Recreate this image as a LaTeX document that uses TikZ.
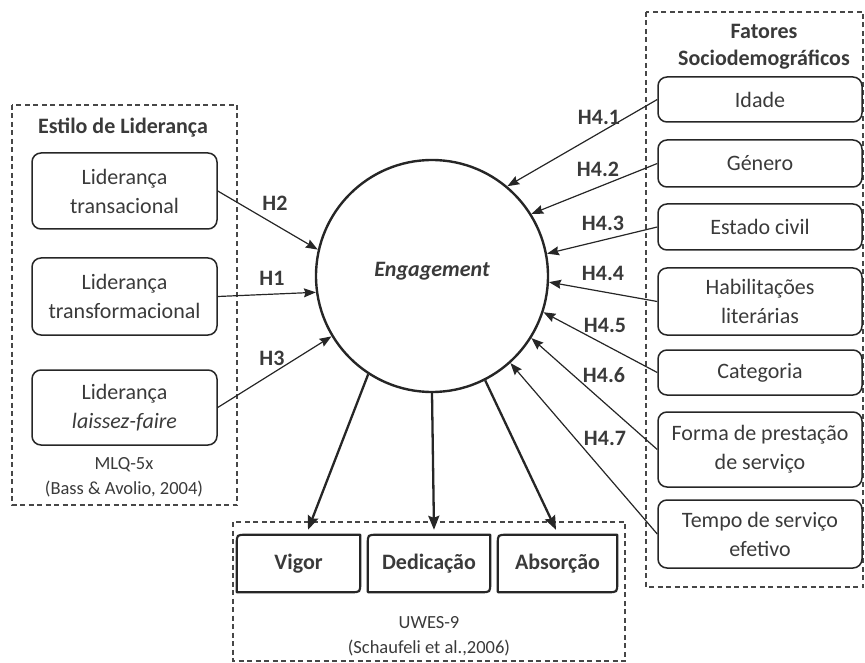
\documentclass[tikz,border=0pt]{standalone}
\usepackage{fontspec}
\setmainfont{Carlito}
\usetikzlibrary{arrows.meta,calc}

\definecolor{txt}{HTML}{3A3A3A}
\definecolor{ink}{HTML}{262626}

\tikzset{
  main/.style={font=\fontsize{22}{29}\selectfont, text=txt},
  capt/.style={font=\fontsize{18.5}{25}\selectfont, text=txt, align=center, inner sep=0pt},
  hlabel/.style={font=\bfseries\fontsize{22}{26}\selectfont, text=txt, inner sep=0pt},
  ttl/.style={font=\bfseries\fontsize{22}{27}\selectfont, text=txt, align=center, inner sep=0pt},
  itembox/.style={main, draw=ink, line width=1.5pt, rounded corners=9pt,
    align=center, inner sep=0pt},
  dimbox/.style={font=\bfseries\fontsize{22}{26}\selectfont, text=txt,
    inner sep=0pt, minimum height=57pt},
  dimborder/.style={draw=ink, line width=2.2pt, line join=round},
  group/.style={draw=ink!85, line width=1.3pt, dash pattern=on 5pt off 3.5pt},
  conn/.style={draw=ink, line width=1.2pt, -{Stealth[length=12pt,width=9pt,inset=1.5pt]}},
  heavy/.style={draw=ink, line width=2.3pt, -{Stealth[length=14pt,width=11pt,inset=2pt]}}
}

\newcommand{\dimframe}[1]{%
  \draw[dimborder] (#1.south west)
    -- ($(#1.north west)+(0,9)$) .. controls (#1.north west) .. ($(#1.north west)+(9,0)$)
    -- (#1.north east)
    -- ($(#1.south east)+(0,-9)$) .. controls (#1.south east) .. ($(#1.south east)+(-9,0)$)
    -- cycle;}

\begin{document}
\begin{tikzpicture}[x=1pt,y=-1pt]
\useasboundingbox (0,0) rectangle (865,663);

% group frames
\draw[group] (12,105) rectangle (237,505);
\draw[group] (646,12) rectangle (863,587);
\draw[group] (233,522) rectangle (625,661);

% leadership styles
\node[ttl] (tl) at (123,128) {Estilo de Liderança};
\node[itembox, minimum width=185pt, minimum height=76pt] (l1) at (124.5,191) {Liderança\\transacional};
\node[itembox, minimum width=185pt, minimum height=77pt] (l2) at (124.5,296.5) {Liderança\\transformacional};
\node[itembox, minimum width=185pt, minimum height=75pt] (l3) at (124.5,407.5) {Liderança\\\textit{laissez-faire}};
\node[capt] (mlq) at (124,477) {MLQ-5x\\(Bass \& Avolio, 2004)};

% central construct
\node[circle, draw=ink, line width=2.4pt, minimum size=232pt, inner sep=0pt] (eng) at (432,276) {};
\node[font=\bfseries\itshape\fontsize{22}{26}\selectfont, text=txt] (engt) at (432,271) {Engagement};

% sociodemographic factors
\node[ttl] (tf) at (764,47) {Fatores\\Sociodemográficos};
\node[itembox, minimum width=204pt, minimum height=45pt] (f1) at (760,99.5) {Idade};
\node[itembox, minimum width=204pt, minimum height=47pt] (f2) at (760,163.5) {Género};
\node[itembox, minimum width=204pt, minimum height=46pt] (f3) at (760,227) {Estado civil};
\node[itembox, minimum width=204pt, minimum height=67pt] (f4) at (760,301.5) {Habilitações\\literárias};
\node[itembox, minimum width=204pt, minimum height=45pt] (f5) at (760,372.5) {Categoria};
\node[itembox, minimum width=204pt, minimum height=75pt] (f6) at (760,449.5) {Forma de prestação\\de serviço};
\node[itembox, minimum width=204pt, minimum height=68pt] (f7) at (760,534) {Tempo de serviço\\efetivo};

% engagement dimensions
\node[dimbox, minimum width=123pt] (vig) at (298.5,563.5) {Vigor};
\node[dimbox, minimum width=122pt] (ded) at (429,563.5) {Dedicação};
\node[dimbox, minimum width=119pt] (abs) at (557.5,563.5) {Absorção};
\dimframe{vig}
\dimframe{ded}
\dimframe{abs}
\node[capt] (uw) at (429,636) {UWES-9\\(Schaufeli et al.,2006)};

% hypotheses: leadership -> engagement
\draw[conn] (l1.east) -- (eng.167);
\draw[conn] (l2.east) -- (eng.188);
\draw[conn] (l3.east) -- (eng.211);
\node[hlabel] (h2) at (275,203) {H2};
\node[hlabel] (h1) at (272,278) {H1};
\node[hlabel] (h3) at (272,358) {H3};

% hypotheses: factors -> engagement
\draw[conn] (f1.west) -- (eng.50);
\draw[conn] (f2.west) -- (eng.32.6);
\draw[conn] (f3.west) -- (eng.11.8);
\draw[conn] (f4.west) -- (eng.-3.5);
\draw[conn] (f5.west) -- (eng.-18.3);
\draw[conn] (f6.west) -- (eng.-32.5);
\draw[conn] (f7.west) -- (eng.-48.4);
\node[hlabel] (h41) at (599,117) {H4.1};
\node[hlabel] (h42) at (598,169) {H4.2};
\node[hlabel] (h43) at (603,223) {H4.3};
\node[hlabel] (h44) at (603,273) {H4.4};
\node[hlabel] (h45) at (605,325) {H4.5};
\node[hlabel] (h46) at (604,375) {H4.6};
\node[hlabel] (h47) at (605,438) {H4.7};

% engagement -> dimensions
\draw[heavy] (eng.237) -- ($(vig.north)+(9.5,-5)$);
\draw[heavy] (eng.270.5) -- ($(ded.north)+(5,-5)$);
\draw[heavy] (eng.297) -- ($(abs.north)+(-1.5,-5)$);
\end{tikzpicture}
\end{document}
